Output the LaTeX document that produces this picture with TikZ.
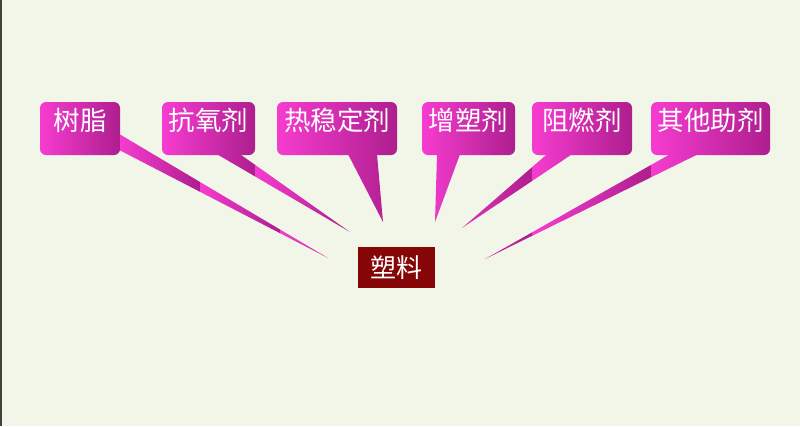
\documentclass[tikz,border=0pt]{standalone}
\usepackage{fontspec}
\newfontfamily\cjk{Noto Sans CJK SC}
\usetikzlibrary{calc}
\definecolor{bgpaper}{RGB}{241,246,233}
\definecolor{edgegray}{RGB}{64,66,60}
\definecolor{pinkL}{RGB}{246,60,208}
\definecolor{pinkR}{RGB}{174,30,142}
\definecolor{plasticred}{RGB}{134,6,8}

\begin{document}
\begin{tikzpicture}[x=1pt,y=1pt,yscale=-1,xscale=1,
  callout/.style={rounded corners=6pt,left color=pinkL,right color=pinkR,text=white,
    font=\cjk\fontsize{26.5}{26.5}\selectfont,minimum height=53pt,inner sep=0pt,
    text height=23pt,text depth=19pt},
  band/.style={left color=pinkL,right color=pinkR},
  centrebox/.style={fill=plasticred,text=white,font=\cjk\fontsize{26}{26}\selectfont,
    minimum width=77pt,minimum height=41pt,inner sep=0pt}]
\useasboundingbox (0,0) rectangle (800,426);

%Background
\fill [bgpaper] (0,0) rectangle (800,426);
\fill [edgegray] (0,0) rectangle (1.5,426);

%Callout boxes
\node [callout,minimum width=80pt] (resin) at (80,128.5) {树脂};
\node [callout,minimum width=93pt] (antiox) at (208.5,128.5) {抗氧剂};
\node [callout,minimum width=120pt] (heatstab) at (337,128.5) {热稳定剂};
\node [callout,minimum width=93pt] (plasticizer) at (468.5,128.5) {增塑剂};
\node [callout,minimum width=100pt] (flameret) at (582,128.5) {阻燃剂};
\node [callout,minimum width=119pt] (otheraid) at (710.5,128.5) {其他助剂};

%Centre box
\node [centrebox] (plastic) at (396.5,267.5) {塑料};

%Pointer tips
\coordinate (tipA) at (328,258);
\coordinate (tipB) at (350,232);
\coordinate (tipC) at (383,222);
\coordinate (tipD) at (435,222);
\coordinate (tipE) at (462,228);
\coordinate (tipF) at (485,259);

%Pointer: resin
\begin{scope}
\clip ($(resin.east)+(-1,5.5)$) -- (tipA) -- ($(resin.east)+(-1,21.5)$) -- cycle;
\foreach \x in {40,120,200,280} \shade [band] (\x,100) rectangle ++(80,170);
\end{scope}
%Pointer: antiox
\begin{scope}
\clip ($(antiox.south)+(8.5,-1)$) -- (tipB) -- ($(antiox.south)+(31.5,-1)$) -- cycle;
\foreach \x in {162,255,348} \shade [band] (\x,100) rectangle ++(93,170);
\end{scope}
%Pointer: heatstab
\begin{scope}
\clip ($(heatstab.south)+(11,-1)$) -- (tipC) -- ($(heatstab.south)+(40,-1)$) -- cycle;
\shade [band] (277,100) rectangle ++(120,170);
\end{scope}
%Pointer: plasticizer
\begin{scope}
\clip ($(plasticizer.south)+(-31.5,-1)$) -- (tipD) -- ($(plasticizer.south)+(-8.5,-1)$) -- cycle;
\shade [band] (422,100) rectangle ++(93,170);
\end{scope}
%Pointer: flameret
\begin{scope}
\clip ($(flameret.south)+(-35,-1)$) -- (tipE) -- ($(flameret.south)+(-10,-1)$) -- cycle;
\foreach \x in {432,532} \shade [band] (\x,100) rectangle ++(100,170);
\end{scope}
%Pointer: otheraid
\begin{scope}
\clip ($(otheraid.south)+(-40.5,-1)$) -- (tipF) -- ($(otheraid.south)+(-12.5,-1)$) -- cycle;
\foreach \x in {413,532,651} \shade [band] (\x,100) rectangle ++(119,170);
\end{scope}

\end{tikzpicture}
\end{document}
